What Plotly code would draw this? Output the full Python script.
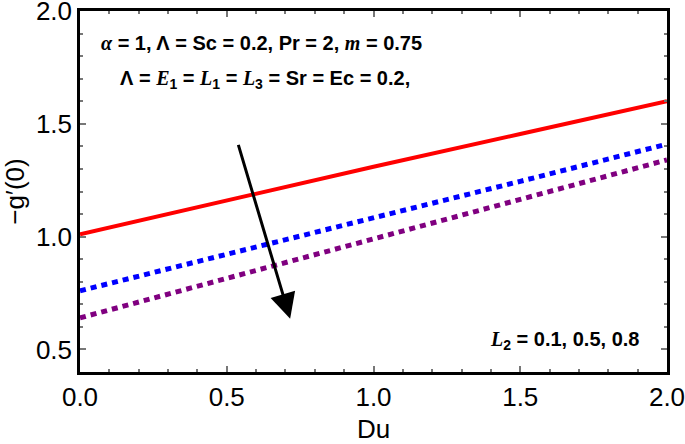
import plotly.graph_objects as go

du = [0.0, 0.5, 1.0, 1.5, 2.0]
g_L2_01 = [1.01, 1.16, 1.31, 1.455, 1.60]
g_L2_05 = [0.76, 0.92, 1.085, 1.245, 1.41]
g_L2_08 = [0.64, 0.815, 0.99, 1.165, 1.34]

series = [
    (g_L2_01, "#ff0000", "solid", 4),
    (g_L2_05, "#0000ff", "6px,5px", 5),
    (g_L2_08, "#800080", "6px,5px", 5),
]

fig = go.Figure()
for ys, col, dash, w in series:
    fig.add_trace(go.Scatter(x=du, y=ys, mode="lines",
                             line=dict(color=col, width=w, dash=dash),
                             showlegend=False))

serif = "font-family:'Liberation Serif'"
line1 = (f"<b><span style=\"{serif}\"><i>α</i></span> = 1, Λ = Sc = 0.2, Pr = 2, "
         f"<span style=\"{serif}\"><i>m</i></span> = 0.75</b>")
line2 = (f"<b>Λ = <span style=\"{serif}\"><i>E</i></span><sub>1</sub> = "
         f"<span style=\"{serif}\"><i>L</i></span><sub>1</sub> = "
         f"<span style=\"{serif}\"><i>L</i></span><sub>3</sub> = Sr = Ec = 0.2,</b>")
line3 = (f"<b><span style=\"{serif}\"><i>L</i></span><sub>2</sub> = 0.1, 0.5, 0.8</b>")

afont = dict(family="Liberation Sans, Arial", size=20, color="black")
fig.add_annotation(x=0.066, y=1.86, xref="x", yref="y", text=line1, showarrow=False,
                   xanchor="left", yanchor="middle", font=afont)
fig.add_annotation(x=0.13, y=1.695, xref="x", yref="y", text=line2, showarrow=False,
                   xanchor="left", yanchor="middle", font=afont)
fig.add_annotation(x=1.39, y=0.54, xref="x", yref="y", text=line3, showarrow=False,
                   xanchor="left", yanchor="middle", font=afont)

# arrow
fig.add_annotation(x=0.716, y=0.636, ax=0.538, ay=1.413, xref="x", yref="y",
                   axref="x", ayref="y", text="", showarrow=True,
                   arrowhead=2, arrowsize=1.7, arrowwidth=3, arrowcolor="black")

tickfont = dict(family="Liberation Sans, Arial", size=26, color="black")
titlefont = dict(family="Liberation Sans, Arial", size=26, color="black")
common = dict(showgrid=False, zeroline=False, showline=True, linecolor="black",
              linewidth=2.5, mirror="ticks", ticks="inside", ticklen=6, tickwidth=2,
              tickcolor="#777777", tickfont=tickfont, automargin=False,
              ticklabeloverflow="allow")
fig.update_xaxes(range=[0, 2.0], tickvals=[0, 0.5, 1.0, 1.5, 2.0],
                 ticktext=["0.0", "0.5", "1.0", "1.5", "2.0"],
                 minor=dict(dtick=0.1, ticks="inside", ticklen=3, tickwidth=2, tickcolor="#777777"),
                 title=dict(text="Du", font=titlefont, standoff=10), **common)
fig.update_yaxes(range=[0.4, 2.0], tickvals=[0.5, 1.0, 1.5, 2.0],
                 ticktext=["0.5", "1.0", "1.5", "2.0"],
                 minor=dict(dtick=0.1, ticks="inside", ticklen=3, tickwidth=2, tickcolor="#777777"),
                 title=dict(text="−g′(0)", font=titlefont, standoff=4), **common)

fig.update_layout(width=685, height=444, plot_bgcolor="white", paper_bgcolor="white",
                  margin=dict(l=80, r=18, t=11, b=72))

fig.write_html("out.html", config={"displayModeBar": False},
               post_script="document.body.style.margin='0';")
